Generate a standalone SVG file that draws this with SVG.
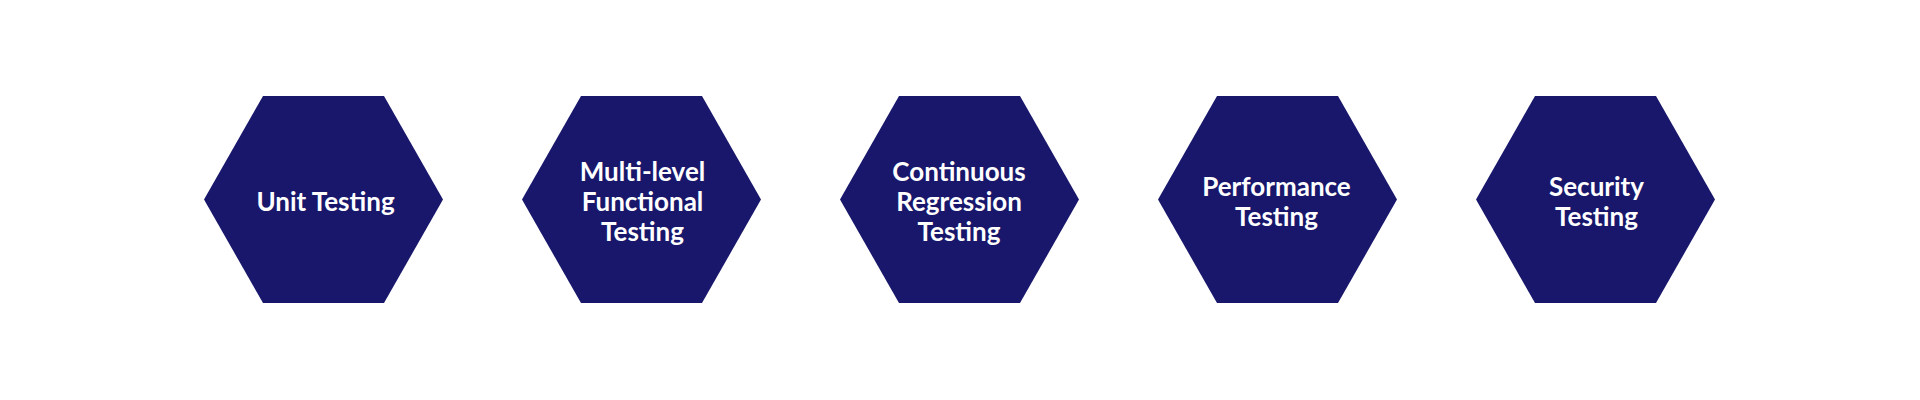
<svg xmlns="http://www.w3.org/2000/svg" width="1920" height="400" viewBox="0 0 1920 400">
<style>
.hex{fill:#18176b}
.t{font-family:Lato,"Liberation Sans",sans-serif;font-weight:bold;font-size:26px;fill:#ffffff;text-anchor:middle}
</style>
<defs>
<polygon id="hx" points="-119.5,0 -60.5,-103.5 60.5,-103.5 119.5,0 60.5,103.5 -60.5,103.5"/>
</defs>
<rect width="1920" height="400" fill="#ffffff"/>
<g id="connectors"></g>
<g id="n1" transform="translate(323.5,199.5)">
<use href="#hx" class="hex"/>
<text class="t" x="2" y="11">Unit Testing</text>
</g>
<g id="n2" transform="translate(641.5,199.5)">
<use href="#hx" class="hex"/>
<text class="t" x="1" y="-19">Multi-level</text>
<text class="t" x="1" y="11">Functional</text>
<text class="t" x="1" y="41">Testing</text>
</g>
<g id="n3" transform="translate(959.5,199.5)">
<use href="#hx" class="hex"/>
<text class="t" x="-0.5" y="-19">Continuous</text>
<text class="t" x="-0.5" y="11">Regression</text>
<text class="t" x="-0.5" y="41">Testing</text>
</g>
<g id="n4" transform="translate(1277.5,199.5)">
<use href="#hx" class="hex"/>
<text class="t" x="-1" y="-4">Performance</text>
<text class="t" x="-1" y="26">Testing</text>
</g>
<g id="n5" transform="translate(1595.5,199.5)">
<use href="#hx" class="hex"/>
<text class="t" x="1" y="-4">Security</text>
<text class="t" x="1" y="26">Testing</text>
</g>
</svg>
